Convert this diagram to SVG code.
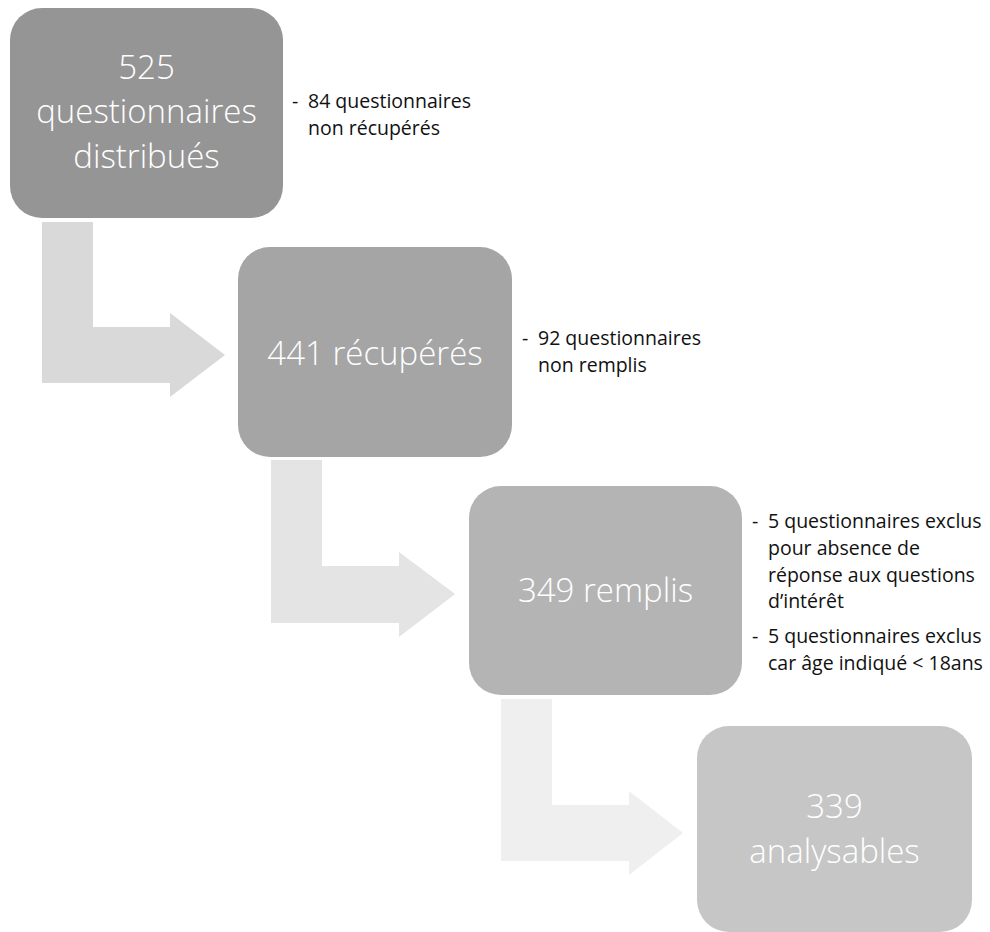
<svg xmlns="http://www.w3.org/2000/svg" width="990" height="932" viewBox="0 0 990 932">
<style>
.main{font-family:"Open Sans","Noto Sans",sans-serif;font-size:33px;font-weight:300;fill:#ffffff;text-anchor:middle}
.note{font-family:"Open Sans","Noto Sans",sans-serif;font-size:19.5px;fill:#111111}
</style>
<rect width="990" height="932" fill="#ffffff"/>
<g id="connectors">
<path d="M42,222 H93 V327 H170 V313 L225,355 L170,397 V383 H42 Z" fill="#d9d9d9"/>
<path d="M271,460 H322 V566 H399 V552 L455,594 L399,637 V623 H271 Z" fill="#e4e4e4"/>
<path d="M501,699 H552 V805 H629 V791 L683,833 L629,875 V861 H501 Z" fill="#efefef"/>
</g>
<g id="node1">
<rect x="10" y="8" width="273" height="210" rx="32" fill="#959595"/>
<text class="main" x="146.5" y="79">525</text>
<text class="main" x="146.5" y="123">questionnaires</text>
<text class="main" x="146.5" y="168">distribués</text>
</g>
<g id="note1">
<text class="note" x="292" y="108">-</text>
<text class="note" x="308" y="108">84 questionnaires</text>
<text class="note" x="308" y="135">non récupérés</text>
</g>
<g id="node2">
<rect x="238" y="247" width="274" height="210" rx="32" fill="#a5a5a5"/>
<text class="main" x="375" y="365">441 récupérés</text>
</g>
<g id="note2">
<text class="note" x="522" y="345">-</text>
<text class="note" x="538" y="345">92 questionnaires</text>
<text class="note" x="538" y="372">non remplis</text>
</g>
<g id="node3">
<rect x="469" y="486" width="273" height="209" rx="32" fill="#b4b4b4"/>
<text class="main" x="605.5" y="602">349 remplis</text>
</g>
<g id="note3">
<text class="note" x="752" y="528">-</text>
<text class="note" x="768" y="528">5 questionnaires exclus</text>
<text class="note" x="768" y="555">pour absence de</text>
<text class="note" x="768" y="582">réponse aux questions</text>
<text class="note" x="768" y="608">d’intérêt</text>
<text class="note" x="752" y="643">-</text>
<text class="note" x="768" y="643">5 questionnaires exclus</text>
<text class="note" x="768" y="670">car âge indiqué &lt; 18ans</text>
</g>
<g id="node4">
<rect x="697" y="726" width="275" height="206" rx="32" fill="#c6c6c6"/>
<text class="main" x="834.5" y="818">339</text>
<text class="main" x="834.5" y="863">analysables</text>
</g>
</svg>
